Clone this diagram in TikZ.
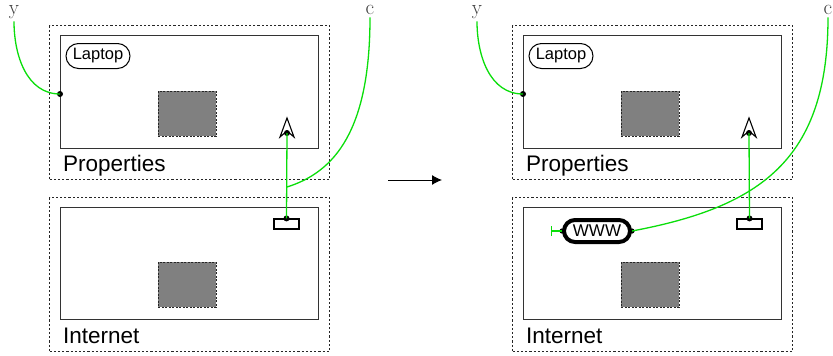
\documentclass[tikz,border=0pt]{standalone}
\usepackage{fontspec}
\newfontfamily\sansf{Liberation Sans}
\usetikzlibrary{arrows.meta,shapes.misc}
\definecolor{wiregreen}{RGB}{10,222,10}
\definecolor{boxgray}{RGB}{128,128,128}
\tikzset{
  outerbox/.style={draw=black!85, line width=1.1pt, dash pattern=on 2.2pt off 2pt,
    rectangle, inner sep=0pt, anchor=north west},
  innerbox/.style={draw=black!80, line width=1.4pt, rectangle, inner sep=0pt, anchor=north west},
  graybox/.style={fill=boxgray, draw=black!85, line width=0.9pt, dash pattern=on 2pt off 1.5pt,
    rectangle, inner sep=0pt, anchor=north west},
  caption/.style={anchor=base west, inner sep=0pt, font=\sansf\fontsize{22.5}{27}\selectfont},
  pill/.style={rounded rectangle, draw=black, line width=1pt, inner sep=0pt,
    minimum width=64pt, minimum height=25pt, font=\sansf\fontsize{16.5}{19}\selectfont},
  webpill/.style={rounded rectangle, draw=black, line width=4pt, inner sep=0pt,
    minimum width=66pt, minimum height=22pt, font=\sansf\fontsize{17}{20}\selectfont},
  socket/.style={rectangle, draw=black, line width=1.1pt, fill=white, inner sep=0pt,
    minimum width=25pt, minimum height=10pt},
  varlabel/.style={inner sep=0pt, anchor=base, text=black!75, font=\fontsize{21}{23}\selectfont},
  wire/.style={draw=wiregreen, line width=1.3pt},
  antenna/.pic={
    \draw[line width=1.1pt, fill=white, line join=miter]
      (0,-15) -- (7,4) -- (0,-2) -- (-7,4) -- cycle;
    \fill (0,0) circle (3pt);
  }
}
\begin{document}
\begin{tikzpicture}[x=1pt,y=-1pt]
\useasboundingbox (0,0) rectangle (833,356);

% ---------- before ----------
\node[outerbox, minimum width=280pt, minimum height=154pt] (Louttop) at (49,25) {};
\node[innerbox, minimum width=258pt, minimum height=113pt] (Lintop) at (60,35) {};
\node[pill] (Llap) at (98,56) {Laptop};
\node[graybox, minimum width=58pt, minimum height=45pt] (Lsqtop) at (158,91) {};
\node[caption] (Lprop) at (63,171) {Properties};
\coordinate (Lport) at (60,94);
\fill (Lport) circle (3pt);
\pic at (287,133) {antenna};
\coordinate (Lant) at (287,133);

\node[outerbox, minimum width=280pt, minimum height=154pt] (Loutbot) at (49,197) {};
\node[innerbox, minimum width=258pt, minimum height=112pt] (Linbot) at (60,207) {};
\node[graybox, minimum width=58pt, minimum height=45pt] (Lsqbot) at (158,262) {};
\node[caption] (Lnet) at (63,343) {Internet};
\node[socket] (Lsock) at (286.5,224) {};
\fill (Lsock.north) circle (3pt);

\node[varlabel] (Ly) at (14,14) {y};
\node[varlabel] (Lc) at (370,14) {c};
\coordinate (Ljoin) at (287,187);

\draw[wire] ([yshift=-3pt]Ly.south) to[out=-90,in=180] (Lport);
\draw[wire] (Lant) -- (Lsock.north);
\draw[wire] ([yshift=-3pt]Lc.south) .. controls (370,130) and (335,172) .. (Ljoin);

% ---------- transition ----------
\coordinate (arrowfrom) at (388,180);
\coordinate (arrowto) at (442,180);
\draw[line width=1pt, -{Latex[length=10pt,width=10pt]}] (arrowfrom) -- (arrowto);

% ---------- after ----------
\node[outerbox, minimum width=280pt, minimum height=154pt] (Routtop) at (512,25) {};
\node[innerbox, minimum width=258pt, minimum height=113pt] (Rintop) at (523,35) {};
\node[pill] (Rlap) at (561,56) {Laptop};
\node[graybox, minimum width=58pt, minimum height=45pt] (Rsqtop) at (621,91) {};
\node[caption] (Rprop) at (526,171) {Properties};
\coordinate (Rport) at (523,94);
\fill (Rport) circle (3pt);
\pic at (749,133) {antenna};
\coordinate (Rant) at (749,133);

\node[outerbox, minimum width=280pt, minimum height=154pt] (Routbot) at (512,197) {};
\node[innerbox, minimum width=258pt, minimum height=112pt] (Rinbot) at (523,207) {};
\node[graybox, minimum width=58pt, minimum height=45pt] (Rsqbot) at (621,262) {};
\node[caption] (Rnet) at (526,343) {Internet};
\node[socket] (Rsock) at (749.5,224) {};
\fill (Rsock.north) circle (3pt);

\node[webpill] (Rwww) at (597,231) {WWW};
\fill (Rwww.west) circle (2.6pt);
\fill (Rwww.east) circle (2.6pt);
\coordinate (Rtee) at (551,231);

\node[varlabel] (Ry) at (477,14) {y};
\node[varlabel] (Rc) at (828,14) {c};

\draw[wire] ([yshift=-3pt]Ry.south) to[out=-90,in=180] (Rport);
\draw[wire] (Rant) -- (Rsock.north);
\draw[wire] ([yshift=-3pt]Rc.south) .. controls (828,160) and (760,207) .. (Rwww.east);
\draw[wire, {Bar[width=10pt,line width=1.3pt]}-] (Rtee) -- (Rwww.west);
\end{tikzpicture}
\end{document}
